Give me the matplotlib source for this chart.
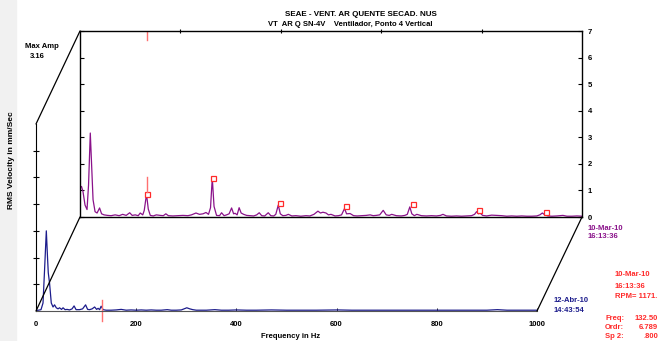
import matplotlib
matplotlib.use("Agg")
import matplotlib.pyplot as plt
from matplotlib.patches import ConnectionPatch, Rectangle

plt.rcParams['font.family'] = ['Liberation Sans', 'DejaVu Sans']
plt.rcParams['font.weight'] = 'bold'

W, H = 663, 341

# back trace: 10-Mar-10 16:13:36
back_freq = [0, 3, 6, 10, 14, 17, 20.5, 23, 26, 30, 34, 39, 43, 48, 55, 62, 70, 78, 85, 92,
             99, 104, 110, 116, 120, 125, 128, 132.5, 136, 140, 146, 152, 160, 166, 171, 176, 185, 195, 205, 215,
             222, 231, 238, 245, 251, 256, 260, 263.5, 267, 272, 278, 282, 287, 292, 297, 302, 306, 309, 313, 317,
             321, 326, 332, 339, 346, 352, 357, 362, 368, 375, 380, 386, 390, 395, 399, 404, 410, 415, 422, 430,
             440, 450, 458, 466, 474, 479, 484, 490, 495, 500, 508, 515, 521, 527, 531, 538, 545, 552, 560, 570,
             578, 584, 590, 597, 604, 610, 616, 621, 630, 640, 647, 652, 657, 661, 666, 671, 680, 690, 700, 710,
             718, 723, 730, 740, 750, 760, 770, 780, 786, 790, 794, 797, 802, 810, 820, 830, 840, 850, 860, 870,
             880, 890, 900, 910, 916, 921, 926, 932, 940, 950, 962, 970, 980, 990, 1000]
back_amp = [1.10, 1.15, 0.95, 0.45, 0.28, 1.2, 3.16, 2.0, 0.65, 0.2, 0.15, 0.34, 0.12, 0.08, 0.06, 0.05, 0.08, 0.05, 0.10, 0.06,
            0.16, 0.06, 0.08, 0.05, 0.15, 0.08, 0.25, 0.86, 0.3, 0.06, 0.04, 0.08, 0.06, 0.05, 0.12, 0.05, 0.04, 0.05, 0.06, 0.05,
            0.08, 0.15, 0.1, 0.12, 0.17, 0.1, 0.35, 1.47, 0.4, 0.06, 0.05, 0.16, 0.05, 0.08, 0.12, 0.34, 0.12, 0.14, 0.08, 0.35,
            0.15, 0.1, 0.06, 0.05, 0.04, 0.08, 0.16, 0.05, 0.04, 0.16, 0.05, 0.04, 0.1, 0.45, 0.12, 0.05, 0.06, 0.1, 0.04, 0.05,
            0.03, 0.05, 0.04, 0.1, 0.22, 0.15, 0.18, 0.15, 0.08, 0.1, 0.04, 0.05, 0.08, 0.32, 0.12, 0.13, 0.05, 0.04, 0.05, 0.06,
            0.08, 0.05, 0.06, 0.08, 0.25, 0.08, 0.06, 0.1, 0.05, 0.04, 0.06, 0.1, 0.38, 0.12, 0.05, 0.1, 0.05, 0.04, 0.05, 0.04,
            0.06, 0.1, 0.04, 0.03, 0.04, 0.03, 0.04, 0.05, 0.1, 0.2, 0.12, 0.15, 0.06, 0.04, 0.07, 0.06, 0.05, 0.03, 0.04, 0.03,
            0.04, 0.03, 0.03, 0.04, 0.08, 0.15, 0.08, 0.04, 0.03, 0.04, 0.06, 0.03, 0.03, 0.04, 0.03]

# harmonic markers of 132.50 Hz on the back trace
mark_freq = [132.5, 265, 397.5, 530, 662.5, 795, 927.5]
mark_amp = [0.86, 1.45, 0.51, 0.42, 0.48, 0.26, 0.2]

# front trace: 12-Abr-10 14:43:54
front_freq = [0, 5, 10, 14, 17, 20.6, 23, 24.5, 27, 30.5, 34, 37, 40.5, 44, 47, 51, 54, 58, 62, 67,
              72, 76, 80, 87, 93, 99, 103, 107, 112, 117, 121, 124, 127, 130, 134, 140, 150, 160, 170, 180,
              190, 200, 210, 220, 230, 240, 250, 262, 270, 280, 290, 301, 307, 313, 320, 340, 357, 370, 385, 400,
              420, 440, 470, 500, 530, 560, 602, 630, 660, 700, 740, 780, 820, 860, 900, 921, 940, 970, 1000]
front_amp = [0.02, 0.03, 0.05, 0.3, 1.5, 3.0, 2.0, 1.43, 1.05, 0.3, 0.15, 0.23, 0.12, 0.08, 0.12, 0.06, 0.12, 0.05, 0.06, 0.04,
             0.08, 0.19, 0.05, 0.05, 0.08, 0.23, 0.06, 0.05, 0.08, 0.15, 0.06, 0.1, 0.05, 0.18, 0.05, 0.03, 0.03, 0.04, 0.06, 0.03,
             0.04, 0.03, 0.04, 0.03, 0.04, 0.03, 0.03, 0.05, 0.03, 0.03, 0.04, 0.12, 0.08, 0.05, 0.03, 0.03, 0.05, 0.03, 0.03, 0.04,
             0.03, 0.03, 0.04, 0.03, 0.03, 0.03, 0.04, 0.03, 0.03, 0.03, 0.03, 0.03, 0.03, 0.03, 0.03, 0.05, 0.03, 0.03, 0.03]

cursor_freq = 132.5
y_ticks = [0, 1, 2, 3, 4, 5, 6, 7]
x_ticks = [0, 200, 400, 600, 800, 1000]

PURPLE = '#8a128a'
NAVY = '#1c1c8c'
RED = '#ff2a2a'
CURSOR = '#ff7070'


def box(left, top, right, bottom):
    return [left / W, 1 - bottom / H, (right - left) / W, (bottom - top) / H]


fig = plt.figure(figsize=(W / 100, H / 100), dpi=100)
fig.patches.append(Rectangle((0, 0), 16 / W, 1, transform=fig.transFigure,
                             color='#f1f1f1', zorder=-1))

# back plane
axb = fig.add_axes(box(80, 31, 582, 217))
axb.patch.set_alpha(0)
axb.plot(back_freq, back_amp, color=PURPLE, lw=0.9)
axb.plot(mark_freq, mark_amp, ls='none', marker='s', ms=3.6, mfc='white',
         mec=RED, mew=0.9)
axb.plot([cursor_freq, cursor_freq], [0.95, 1.52], color=CURSOR, lw=1)
axb.plot([cursor_freq, cursor_freq], [6.65, 7], color=CURSOR, lw=1)
axb.set_xlim(0, 1000)
axb.set_ylim(0, 7)
axb.set_xticks(x_ticks[1:-1])
axb.set_yticks(y_ticks)
axb.tick_params(axis='x', bottom=False, top=True, labelbottom=False,
                direction='inout', length=3, width=0.8)
axb.tick_params(axis='y', left=True, right=True, labelleft=False,
                labelright=True, direction='in', length=3, width=0.8,
                labelsize=5.5, pad=4)
for s in axb.spines.values():
    s.set_linewidth(1)

# front plane
axf = fig.add_axes(box(36, 124, 537, 311))
axf.patch.set_alpha(0)
axf.plot(front_freq, front_amp, color=NAVY, lw=0.9)
axf.plot([cursor_freq, cursor_freq], [-0.38, 0.4], color=CURSOR, lw=1,
         clip_on=False)
axf.set_xlim(0, 1000)
axf.set_ylim(0, 7)
axf.set_xticks(x_ticks)
axf.set_yticks(y_ticks[1:-1])
axf.spines['top'].set_visible(False)
axf.spines['right'].set_visible(False)
axf.spines['bottom'].set_color('#555555')
axf.tick_params(axis='x', direction='in', length=2, width=0.6,
                labelsize=5.5, pad=7)
axf.tick_params(axis='y', direction='inout', length=4, width=0.8,
                labelleft=False)

# depth connectors between the two planes
for a, b in [((0, 0), (0, 0)), ((0, 7), (0, 7)), ((1000, 0), (1000, 0))]:
    con = ConnectionPatch(xyA=a, coordsA='data', axesA=axf,
                          xyB=b, coordsB='data', axesB=axb,
                          color='black', lw=0.9)
    fig.add_artist(con)

fig.text(361 / W, 1 - 14 / H, 'SEAE - VENT. AR QUENTE SECAD. NUS',
         ha='center', va='center', fontsize=5.8)
fig.text(350 / W, 1 - 25 / H, 'VT  AR Q SN-4V    Ventilador, Ponto 4 Vertical',
         ha='center', va='center', fontsize=5.5)
fig.text(25 / W, 1 - 46 / H, 'Max Amp', ha='left', va='center', fontsize=5.5)
fig.text(30 / W, 1 - 56 / H, '3.16', ha='left', va='center', fontsize=5.5)
fig.text(12 / W, 1 - 160 / H, 'RMS Velocity in mm/Sec', rotation=90,
         ha='center', va='center', fontsize=6)
fig.text(291 / W, 1 - 336 / H, 'Frequency in Hz', ha='center', va='center',
         fontsize=5.5)

fig.text(588 / W, 1 - 229 / H, '10-Mar-10', color=PURPLE, fontsize=5.5,
         va='center')
fig.text(588 / W, 1 - 237 / H, '16:13:36', color=PURPLE, fontsize=5.5,
         va='center')
fig.text(554 / W, 1 - 301 / H, '12-Abr-10', color=NAVY, fontsize=5.5,
         va='center')
fig.text(554 / W, 1 - 310 / H, '14:43:54', color=NAVY, fontsize=5.5,
         va='center')

fig.text(615 / W, 1 - 275 / H, '10-Mar-10', color=RED, fontsize=5.5, va='center')
fig.text(615 / W, 1 - 286 / H, '16:13:36', color=RED, fontsize=5.5, va='center')
fig.text(615 / W, 1 - 297 / H, 'RPM= 1171.', color=RED, fontsize=5.5, va='center')
for i, (k, v) in enumerate([('Freq:', '132.50'), ('Ordr:', '6.789'), ('Sp 2:', '.800')]):
    y = 1 - (318 + 9.5 * i) / H
    fig.text(605 / W, y, k, color=RED, fontsize=5.5, va='center')
    fig.text(658 / W, y, v, color=RED, fontsize=5.5, va='center', ha='right')

fig.savefig('out.png', dpi=100)
